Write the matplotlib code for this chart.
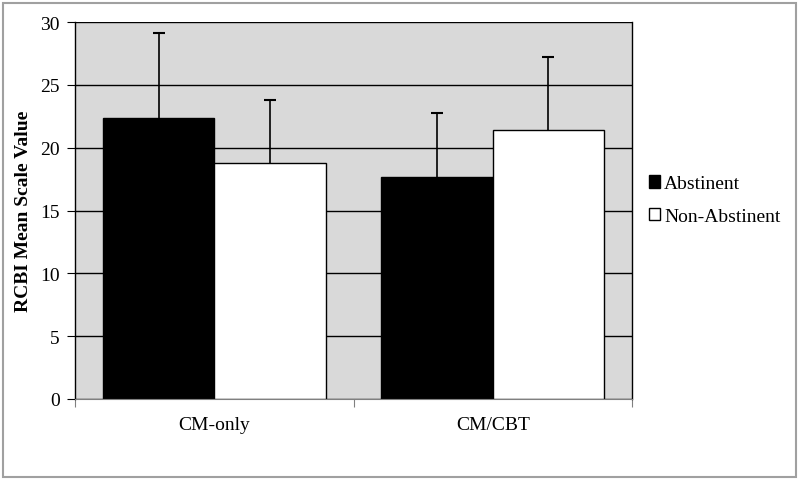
import matplotlib.pyplot as plt
import matplotlib.patches as mpatches
import numpy as np

groups = ['CM-only', 'CM/CBT']
series = ['Abstinent', 'Non-Abstinent']
abstinent = [22.4, 17.7]
abstinent_err = [6.7, 5.05]
non_abstinent = [18.8, 21.4]
non_abstinent_err = [5.0, 5.8]
yticks = [0, 5, 10, 15, 20, 25, 30]

plt.rcParams['font.family'] = ['Liberation Serif', 'DejaVu Serif']

fig = plt.figure(figsize=(8, 4.81), dpi=100)
ax = fig.add_axes([75/800, 81/481, 557/800, 377/481])
ax.set_facecolor('#d9d9d9')

x = np.arange(len(groups))
w = 0.4
ax.bar(x - w/2, abstinent, w, color='black', edgecolor='black', linewidth=1, label=series[0], zorder=2)
ax.bar(x + w/2, non_abstinent, w, color='white', edgecolor='black', linewidth=1, label=series[1], zorder=2)

# plus-only error bars
for xs, vals, errs in [(x - w/2, abstinent, abstinent_err), (x + w/2, non_abstinent, non_abstinent_err)]:
    tops = np.array(vals) + np.array(errs)
    ax.vlines(xs, vals, tops, color='black', linewidth=1.2, zorder=3)
    ax.plot(xs, tops, linestyle='none', marker='_', markersize=8, markeredgewidth=1.5, color='black', zorder=3)

ax.set_xlim(-0.5, 1.5)
ax.set_ylim(0, 30)
ax.set_yticks(yticks)
ax.yaxis.grid(True, color='black', linewidth=1)
ax.set_axisbelow(True)

ax.set_xticks([-0.5, 0.5, 1.5])
ax.set_xticklabels([])
ax.set_xticks(x, minor=True)
ax.set_xticklabels(groups, minor=True, fontsize=14)
ax.tick_params(axis='x', which='minor', length=0, pad=12)
ax.tick_params(axis='x', which='major', length=6, color='#808080', direction='out')
ax.tick_params(axis='y', length=6, direction='out', labelsize=14, pad=5)

for s in ['left', 'right']:
    ax.spines[s].set_color('black')
    ax.spines[s].set_linewidth(1)
ax.spines['top'].set_visible(False)
ax.spines['bottom'].set_color('#808080')

ax.set_ylabel('RCBI Mean Scale Value', fontsize=14, fontweight='bold', labelpad=6)

ax.legend(loc='center left', bbox_to_anchor=(631/800, 280/481), bbox_transform=fig.transFigure,
          frameon=False, fontsize=14, handlelength=0.6, handleheight=0.6,
          handletextpad=0.2, labelspacing=0.8)

fig.patches.append(mpatches.Rectangle((3/800, 3/481), 793/800, 474/481, transform=fig.transFigure,
                                      fill=False, edgecolor='#a0a0a0', linewidth=1.5))

fig.savefig('out.png', dpi=100)
